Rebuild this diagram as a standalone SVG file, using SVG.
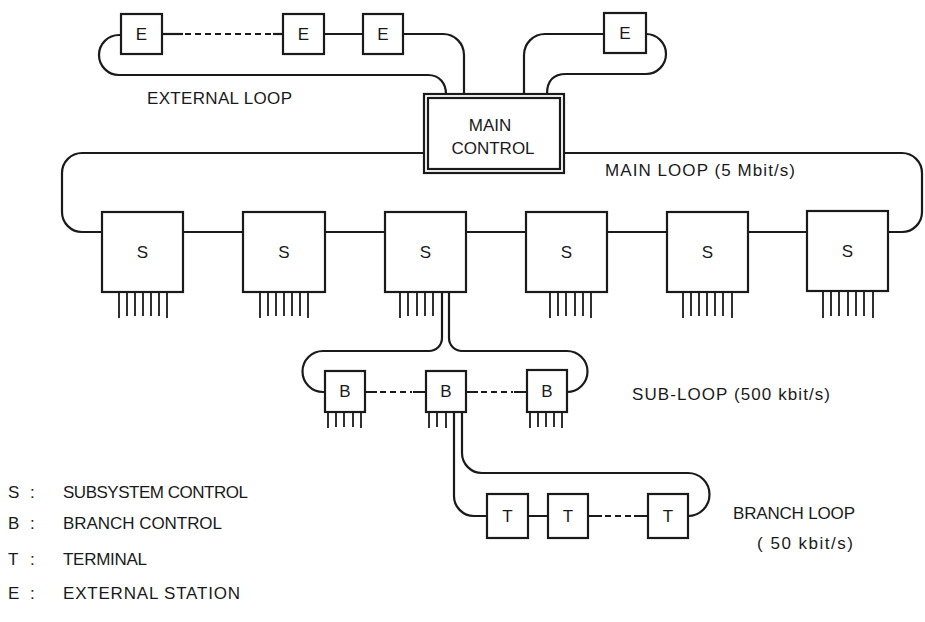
<svg xmlns="http://www.w3.org/2000/svg" width="925" height="622" viewBox="0 0 925 622">
<defs>
<style>
.bg{fill:#ffffff}
.box{fill:none;stroke:#1a1a1a;stroke-width:2.2}
.ln{fill:none;stroke:#1a1a1a;stroke-width:2.2}
.dash{fill:none;stroke:#1a1a1a;stroke-width:2.2;stroke-dasharray:6 4}
.pin{fill:none;stroke:#1a1a1a;stroke-width:1.8}
.lbl{font-family:"Liberation Sans","DejaVu Sans",sans-serif;font-size:17px;fill:#1a1a1a}
.nl{font-family:"Liberation Sans","DejaVu Sans",sans-serif;font-size:17px;fill:#1a1a1a;text-anchor:middle;dominant-baseline:central}
</style>
</defs>
<rect class="bg" x="0" y="0" width="925" height="622"/>

<g id="connectors">
  <!-- external loop left -->
  <path class="ln" d="M121,35 H119 A20,20 0 0 0 119,75 H428 C440,75 446,84 446,94"/>
  <path class="ln" d="M162,34 H183"/>
  <path class="dash" d="M185,34 H272"/>
  <path class="ln" d="M273,34 H283"/>
  <path class="ln" d="M324,34 H363"/>
  <path class="ln" d="M403,34 H443 A21,21 0 0 1 464,55 V94"/>
  <!-- external loop right -->
  <path class="ln" d="M524,94 V55 A21,21 0 0 1 545,34 H604"/>
  <path class="ln" d="M547,94 Q547,74 566,74 H646 A20,20 0 0 0 646,34"/>
  <!-- main loop -->
  <path class="ln" d="M424,153 H82 A20,20 0 0 0 62,173 V212 A20,20 0 0 0 82,232 H102"/>
  <path class="ln" d="M564,153 H902 A20,20 0 0 1 922,173 V212 A20,20 0 0 1 902,232 H888"/>
  <path class="ln" d="M183,232 H243 M325,232 H385 M466,232 H526 M607,232 H667 M748,232 H807"/>
  <!-- sub-loop -->
  <path class="ln" d="M442,292 V338 A13,13 0 0 1 429,351 H323 A20.5,20.5 0 0 0 323,392 H325"/>
  <path class="ln" d="M449,292 V338 A13,13 0 0 0 462,351 H567 A20.5,20.5 0 0 1 567,392"/>
  <path class="ln" d="M365,392 H377 M413,392 H426 M466,392 H478 M514,392 H527"/>
  <path class="dash" d="M380,392 H412 M481,392 H513"/>
  <!-- branch loop -->
  <path class="ln" d="M454,412 V496 A20,20 0 0 0 474,516 H487"/>
  <path class="ln" d="M462,412 V453 A20,20 0 0 0 482,473 H688 A21.5,21.5 0 0 1 688,516"/>
  <path class="ln" d="M528,516 H548 M588,516 H602 M634,516 H648"/>
  <path class="dash" d="M605,516 H633"/>
</g>

<g id="main-control">
  <rect class="box" x="424" y="94" width="140" height="79"/>
  <rect class="box" x="428" y="98" width="132" height="71" stroke-width="1.2"/>
  <text class="nl" x="490" y="125">MAIN</text>
  <text class="nl" x="493" y="148">CONTROL</text>
</g>

<g id="e1"><rect class="box" x="121" y="14" width="41" height="40"/><text class="nl" x="141.5" y="34">E</text></g>
<g id="e2"><rect class="box" x="283" y="14" width="41" height="40"/><text class="nl" x="303.5" y="34">E</text></g>
<g id="e3"><rect class="box" x="363" y="14" width="40" height="40"/><text class="nl" x="383" y="34">E</text></g>
<g id="e4"><rect class="box" x="604" y="13" width="42" height="40"/><text class="nl" x="625" y="33">E</text></g>

<g id="s1"><rect class="box" x="102" y="212" width="81" height="80"/><text class="nl" x="142.5" y="252">S</text>
  <path class="pin" d="M119,292V318 M127,293V316 M135,293V316 M143,293V316 M151,293V316 M159,293V316 M167,292V318"/></g>
<g id="s2"><rect class="box" x="243" y="212" width="82" height="80"/><text class="nl" x="284" y="252">S</text>
  <path class="pin" d="M260,292V318 M268,293V316 M276,293V316 M284,293V316 M292,293V316 M300,293V316 M308,292V318"/></g>
<g id="s3"><rect class="box" x="385" y="212" width="81" height="80"/><text class="nl" x="425.5" y="252">S</text>
  <path class="pin" d="M400,292V318 M408,293V316 M417,293V316 M425,293V316 M433,293V316"/></g>
<g id="s4"><rect class="box" x="526" y="212" width="81" height="80"/><text class="nl" x="566.5" y="252">S</text>
  <path class="pin" d="M550,292V318 M558,293V316 M566,293V316 M575,293V316 M583,293V316 M591,292V318"/></g>
<g id="s5"><rect class="box" x="667" y="212" width="81" height="80"/><text class="nl" x="707.5" y="252">S</text>
  <path class="pin" d="M683,292V318 M691,293V316 M699,293V316 M707,293V316 M715,293V316 M723,293V316 M732,292V318"/></g>
<g id="s6"><rect class="box" x="807" y="211" width="81" height="80"/><text class="nl" x="847.5" y="251">S</text>
  <path class="pin" d="M823,291V318 M831,292V316 M839,292V316 M848,292V316 M856,292V316 M864,292V316 M873,291V318"/></g>

<g id="b1"><rect class="box" x="325" y="371" width="40" height="41"/><text class="nl" x="345" y="391.5">B</text>
  <path class="pin" d="M328,412V428 M336,413V427 M344,413V427 M353,413V427 M361,412V428"/></g>
<g id="b2"><rect class="box" x="426" y="371" width="40" height="41"/><text class="nl" x="446" y="391.5">B</text>
  <path class="pin" d="M429,412V428 M437,413V427 M446,412V428"/></g>
<g id="b3"><rect class="box" x="527" y="370" width="40" height="42"/><text class="nl" x="547" y="391">B</text>
  <path class="pin" d="M530,412V428 M538,413V427 M546,413V427 M554,413V427 M562,412V428"/></g>

<g id="t1"><rect class="box" x="487" y="494" width="41" height="44"/><text class="nl" x="507.5" y="516">T</text></g>
<g id="t2"><rect class="box" x="548" y="494" width="40" height="44"/><text class="nl" x="568" y="516">T</text></g>
<g id="t3"><rect class="box" x="648" y="494" width="40" height="44"/><text class="nl" x="668" y="516">T</text></g>

<g id="labels">
  <text class="lbl" x="147" y="104" textLength="145" lengthAdjust="spacing">EXTERNAL  LOOP</text>
  <text class="lbl" x="605" y="176" textLength="190" lengthAdjust="spacing">MAIN  LOOP (5 Mbit/s)</text>
  <text class="lbl" x="632" y="400" textLength="198" lengthAdjust="spacing">SUB-LOOP (500 kbit/s)</text>
  <text class="lbl" x="733" y="519" textLength="122" lengthAdjust="spacing">BRANCH  LOOP</text>
  <text class="lbl" x="757" y="549" textLength="96" lengthAdjust="spacing">( 50 kbit/s)</text>
</g>

<g id="legend">
  <text class="lbl" y="498"><tspan x="8">S</tspan><tspan x="30">:</tspan><tspan x="63" textLength="185" lengthAdjust="spacing">SUBSYSTEM  CONTROL</tspan></text>
  <text class="lbl" y="529"><tspan x="8">B</tspan><tspan x="30">:</tspan><tspan x="63" textLength="159" lengthAdjust="spacing">BRANCH  CONTROL</tspan></text>
  <text class="lbl" y="565"><tspan x="8">T</tspan><tspan x="30">:</tspan><tspan x="63" textLength="84" lengthAdjust="spacing">TERMINAL</tspan></text>
  <text class="lbl" y="599"><tspan x="8">E</tspan><tspan x="30">:</tspan><tspan x="63" textLength="177" lengthAdjust="spacing">EXTERNAL  STATION</tspan></text>
</g>
</svg>
